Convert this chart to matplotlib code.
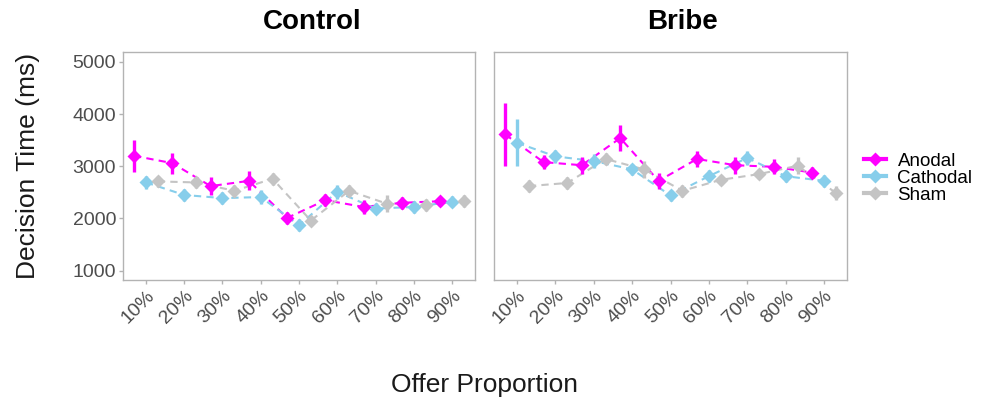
import numpy as np
import matplotlib
matplotlib.use("Agg")
import matplotlib.pyplot as plt
from matplotlib.lines import Line2D
from matplotlib.transforms import ScaledTranslation

plt.rcParams['font.family'] = ['Liberation Sans', 'DejaVu Sans']

# Offer proportions (x categories)
offers = ['10%', '20%', '30%', '40%', '50%', '60%', '70%', '80%', '90%']
groups = ['Anodal', 'Cathodal', 'Sham']

# Control condition: mean decision time (ms) and error
control_anodal = [3200, 3060, 2620, 2720, 2010, 2350, 2220, 2300, 2330]
control_anodal_err = [310, 200, 170, 180, 110, 110, 130, 110, 90]
control_cathodal = [2690, 2450, 2390, 2410, 1870, 2510, 2190, 2220, 2320]
control_cathodal_err = [130, 110, 120, 130, 110, 130, 110, 110, 110]
control_sham = [2710, 2690, 2530, 2760, 1960, 2530, 2280, 2260, 2330]
control_sham_err = [110, 110, 110, 120, 90, 110, 160, 110, 110]

# Bribe condition
bribe_anodal = [3610, 3080, 3020, 3540, 2720, 3140, 3020, 2990, 2880]
bribe_anodal_err = [600, 130, 160, 250, 160, 160, 160, 140, 110]
bribe_cathodal = [3450, 3190, 3100, 2940, 2440, 2810, 3160, 2810, 2720]
bribe_cathodal_err = [450, 130, 130, 110, 110, 110, 130, 110, 110]
bribe_sham = [2620, 2680, 3140, 2940, 2530, 2740, 2850, 3010, 2490]
bribe_sham_err = [110, 110, 120, 160, 110, 90, 90, 160, 130]

colors = {'Anodal': '#FF00FF', 'Cathodal': '#87CEEB', 'Sham': '#C4C4C4'}
dodge = {'Anodal': -0.31, 'Cathodal': 0.0, 'Sham': 0.31}
tick_color = '#4D4D4D'


# Draw one facet panel
def draw_panel(ax, series, show_y=True):
    x = np.arange(1, len(offers) + 1)
    for name, (mean, err) in series.items():
        xs = x + dodge[name]
        ax.plot(xs, mean, color=colors[name], lw=1.5,
                linestyle=(0, (3.5, 2.5)), zorder=2)
        ax.errorbar(xs, mean, yerr=err, fmt='none', ecolor=colors[name],
                    elinewidth=2.4, capsize=0, zorder=3)
        ax.plot(xs, mean, linestyle='none', marker='D', ms=7,
                color=colors[name], mec='none', zorder=4)

    ax.set_xlim(0.4, 9.6)
    ax.set_ylim(820, 5190)
    ax.set_yticks([1000, 2000, 3000, 4000, 5000])
    ax.set_xticks(x)
    ax.set_xticklabels(offers, rotation=45, ha='right', va='top',
                       rotation_mode='anchor')
    offset = ScaledTranslation(0.11, 0.0, ax.figure.dpi_scale_trans)
    for label in ax.get_xticklabels():
        label.set_transform(label.get_transform() + offset)

    for spine in ax.spines.values():
        spine.set_color('#B3B3B3')
        spine.set_linewidth(1.0)
    ax.tick_params(axis='both', colors='#B3B3B3', labelcolor=tick_color,
                   labelsize=14, length=3, width=1, pad=2)
    if not show_y:
        ax.tick_params(axis='y', left=False, labelleft=False)


fig = plt.figure(figsize=(9.91, 4.05), dpi=100)
ax1 = fig.add_axes([0.1241, 0.3086, 0.3552, 0.563])
ax2 = fig.add_axes([0.4985, 0.3086, 0.3562, 0.563])

draw_panel(ax1, {'Anodal': (control_anodal, control_anodal_err),
                 'Cathodal': (control_cathodal, control_cathodal_err),
                 'Sham': (control_sham, control_sham_err)})
draw_panel(ax2, {'Anodal': (bribe_anodal, bribe_anodal_err),
                 'Cathodal': (bribe_cathodal, bribe_cathodal_err),
                 'Sham': (bribe_sham, bribe_sham_err)}, show_y=False)

# Titles and axis labels
fig.text(0.315, 0.946, 'Control', ha='center', va='center',
         fontsize=20, fontweight='bold')
fig.text(0.689, 0.946, 'Bribe', ha='center', va='center',
         fontsize=20, fontweight='bold')
fig.text(0.028, 0.59, 'Decision Time (ms)', rotation=90, ha='center',
         va='center', fontsize=19, color='#1A1A1A')
fig.text(0.489, 0.049, 'Offer Proportion', ha='center', va='center',
         fontsize=19, color='#1A1A1A')

# Legend
handles = [Line2D([0], [0], color=colors[g], lw=3, marker='D', ms=7,
                  mec='none') for g in groups]
fig.legend(handles, groups, loc='center left',
           bbox_to_anchor=(0.864, 0.56), frameon=False, fontsize=13.5,
           handlelength=1.2, handletextpad=0.6, labelspacing=0.0,
           borderaxespad=0)

fig.savefig('out.png', dpi=100)
